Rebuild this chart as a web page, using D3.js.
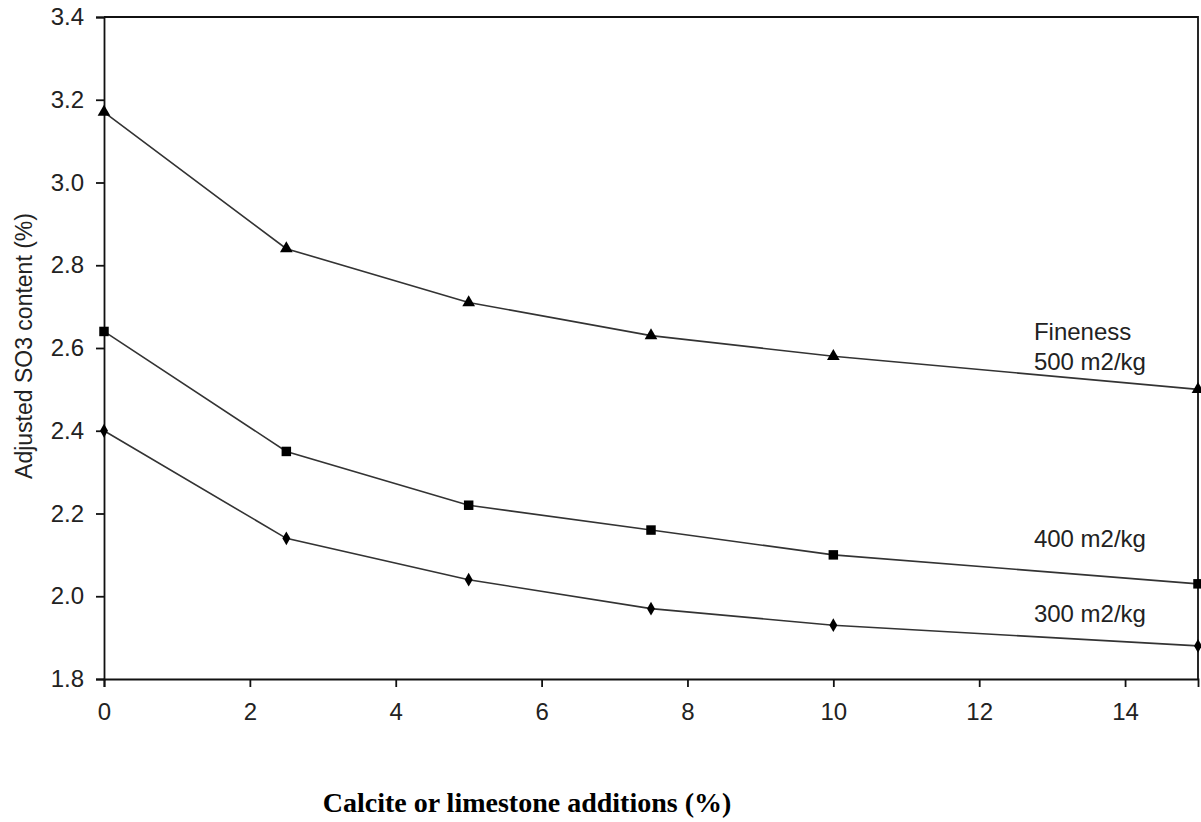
<!DOCTYPE html>
<head>
  <meta charset="utf-8">
  <style>
    body { margin: 0; background: #fff; }
    .tick text { font-family: "Liberation Sans", Arial, sans-serif; font-size: 24px; fill: #222; }
    .series { fill: none; stroke: #333; stroke-width: 1.6px; }
  </style>
  <script src="https://d3js.org/d3.v7.min.js"></script>
</head>
<body>
  <div id="content"></div>
  <script>
  // calcite / limestone additions (%)
  var additions = [0, 2.5, 5, 7.5, 10, 15];
  // adjusted SO3 content (%) per fineness
  var so3_500 = [3.17, 2.84, 2.71, 2.63, 2.58, 2.50];
  var so3_400 = [2.64, 2.35, 2.22, 2.16, 2.10, 2.03];
  var so3_300 = [2.40, 2.14, 2.04, 1.97, 1.93, 1.88];
  var xTicks = [0, 2, 4, 6, 8, 10, 12, 14];
  var yTicks = [1.8, 2.0, 2.2, 2.4, 2.6, 2.8, 3.0, 3.2, 3.4];

  var margin = {top: 17, right: 3, bottom: 143, left: 104},
      width = 1201 - margin.left - margin.right,
      height = 822 - margin.top - margin.bottom;

  var x = d3.scaleLinear().domain([0, 15]).range([0, width]);
  var y = d3.scaleLinear().domain([1.8, 3.4]).range([height, 0]);

  var svg = d3.select("#content").append("svg")
      .attr("width", 1201)
      .attr("height", 822)
    .append("g")
      .attr("transform", "translate(" + margin.left + "," + margin.top + ")");

  // frame (top and right)
  svg.append("path")
    .attr("d", "M0,0H" + width + "V" + height)
    .attr("fill", "none")
    .attr("stroke", "#111")
    .attr("stroke-width", 1.8);

  var xAxis = svg.append("g")
    .attr("transform", "translate(0," + height + ")")
    .call(d3.axisBottom(x).tickValues(xTicks).tickSize(8).tickPadding(16)
            .tickFormat(d3.format("d")));
  var yAxis = svg.append("g")
    .call(d3.axisLeft(y).tickValues(yTicks).tickSize(8).tickPadding(12)
            .tickFormat(d3.format(".1f")));
  [xAxis, yAxis].forEach(function(g) {
    g.select(".domain").attr("stroke", "#111").attr("stroke-width", 1.8);
    g.selectAll(".tick line").attr("stroke", "#111").attr("stroke-width", 1.8);
  });

  var series = [
    {name: "500", values: so3_500, symbol: d3.symbolTriangle, size: 70},
    {name: "400", values: so3_400, symbol: d3.symbolSquare, size: 90},
    {name: "300", values: so3_300, symbol: d3.symbolDiamond, size: 55}
  ];

  var line = d3.line()
    .x(function(d) { return x(d[0]); })
    .y(function(d) { return y(d[1]); });

  series.forEach(function(s) {
    var pts = additions.map(function(a, i) { return [a, s.values[i]]; });
    svg.append("path").datum(pts).attr("class", "series").attr("d", line);
    svg.selectAll(".m" + s.name)
      .data(pts)
      .enter().append("path")
        .attr("transform", function(d) { return "translate(" + x(d[0]) + "," + y(d[1]) + ")"; })
        .attr("d", d3.symbol().type(s.symbol).size(s.size))
        .attr("fill", "#000");
  });

  // series annotations
  var notes = [
    {text: "Fineness", xv: 12.75, yv: 2.62},
    {text: "500 m2/kg", xv: 12.75, yv: 2.548},
    {text: "400 m2/kg", xv: 12.75, yv: 2.12},
    {text: "300 m2/kg", xv: 12.75, yv: 1.938}
  ];
  svg.selectAll(".note")
    .data(notes)
    .enter().append("text")
      .attr("x", function(d) { return x(d.xv); })
      .attr("y", function(d) { return y(d.yv); })
      .style("font-family", "'Liberation Sans', Arial, sans-serif")
      .style("font-size", "24px")
      .style("fill", "#222")
      .text(function(d) { return d.text; });

  // axis titles
  d3.select("svg").append("text")
    .attr("transform", "translate(32,346) rotate(-90)")
    .attr("text-anchor", "middle")
    .style("font-family", "'Liberation Sans', Arial, sans-serif")
    .style("font-size", "23px")
    .style("fill", "#222")
    .text("Adjusted SO3 content (%)");

  d3.select("svg").append("text")
    .attr("x", 527)
    .attr("y", 812)
    .attr("text-anchor", "middle")
    .style("font-family", "'Liberation Serif', 'Times New Roman', serif")
    .style("font-weight", "bold")
    .style("font-size", "28px")
    .style("fill", "#000")
    .text("Calcite or limestone additions (%)");
  </script>
</body>
</html>
